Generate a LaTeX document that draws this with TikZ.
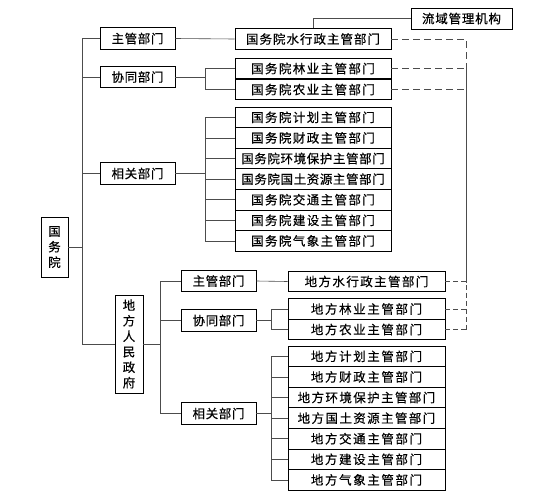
\documentclass[tikz,border=0pt]{standalone}
\usepackage{fontspec}
\newfontfamily\cjk[FakeBold=0.4]{Noto Sans CJK SC}
\ExplSyntaxOn
\seq_new:N \l_my_chars_seq
\NewDocumentCommand\spc{O{1pt}m}{
  \seq_clear:N \l_my_chars_seq
  \tl_map_inline:nn {#2} { \seq_put_right:Nn \l_my_chars_seq {##1} }
  \seq_use:Nn \l_my_chars_seq { \hspace{#1} }
}
\ExplSyntaxOff
\tikzset{
  box/.style={draw=black, line width=0.8pt, inner sep=0pt, anchor=center,
    font=\cjk\fontsize{12.5pt}{15.5pt}\selectfont},
  wide/.style={box, minimum width=156pt, minimum height=20.6pt},
  lwide/.style={box, minimum width=157pt, minimum height=20.6pt},
  dept/.style={box, minimum width=75pt, minimum height=21.5pt},
  vbox/.style={box, align=center},
  ln/.style={draw=black!70, line width=0.6pt},
  dsh/.style={ln, dash pattern=on 7pt off 4pt},
}
\begin{document}
\begin{tikzpicture}[x=1pt,y=-1pt]
\useasboundingbox (0,0) rectangle (542,504);
% root
\node[vbox, minimum width=27pt, minimum height=60pt] (gwy) at (54.5,247) {国\\务\\院};
% national level
\node[dept] (zg1) at (137.5,38.5) {\spc[0.6pt]{主管部门}};
\node[dept] (xt1) at (137.5,77) {\spc[0.6pt]{协同部门}};
\node[dept] (xg1) at (137.5,173.5) {\spc[0.6pt]{相关部门}};
\node[box, minimum width=101pt, minimum height=21pt] (lyjg) at (461.5,18.5) {\spc[0.8pt]{流域管理机构}};
\node[wide] (sl1) at (313,39) {\spc[1pt]{国务院水行政主管部门}};
\node[wide] (ly1) at (313,68.5) {\spc[1.4pt]{国务院林业主管部门}};
\node[wide] (ny1) at (313,89.5) {\spc[1.4pt]{国务院农业主管部门}};
\node[wide] (n1) at (313,117.3) {\spc[1.4pt]{国务院计划主管部门}};
\node[wide] (n2) at (313,137.9) {\spc[1.4pt]{国务院财政主管部门}};
\node[wide] (n3) at (313,158.5) {\spc[0.6pt]{国务院环境保护主管部门}};
\node[wide] (n4) at (313,179.1) {\spc[0.6pt]{国务院国土资源主管部门}};
\node[wide] (n5) at (313,199.7) {\spc[1.4pt]{国务院交通主管部门}};
\node[wide] (n6) at (313,220.3) {\spc[1.4pt]{国务院建设主管部门}};
\node[wide] (n7) at (313,240.9) {\spc[1.4pt]{国务院气象主管部门}};
% local level
\node[vbox, minimum width=28pt, minimum height=98pt] (dfrm) at (129,344) {地\\方\\人\\民\\政\\府};
\node[dept] (zg2) at (218.5,281) {\spc[0.6pt]{主管部门}};
\node[dept] (xt2) at (218.5,320.5) {\spc[0.6pt]{协同部门}};
\node[dept] (xg2) at (218.5,413.5) {\spc[0.6pt]{相关部门}};
\node[lwide] (sl2) at (366.5,281.5) {\spc[1.4pt]{地方水行政主管部门}};
\node[lwide] (ly2) at (366.5,309) {\spc[1.6pt]{地方林业主管部门}};
\node[lwide] (ny2) at (366.5,329.5) {\spc[1.6pt]{地方农业主管部门}};
\node[lwide] (m1) at (366.5,356.3) {\spc[1.6pt]{地方计划主管部门}};
\node[lwide] (m2) at (366.5,376.9) {\spc[1.6pt]{地方财政主管部门}};
\node[lwide] (m3) at (366.5,397.5) {\spc[1.4pt]{地方环境保护主管部门}};
\node[lwide] (m4) at (366.5,418.1) {\spc[1.4pt]{地方国土资源主管部门}};
\node[lwide] (m5) at (366.5,438.7) {\spc[1.6pt]{地方交通主管部门}};
\node[lwide] (m6) at (366.5,459.3) {\spc[1.6pt]{地方建设主管部门}};
\node[lwide] (m7) at (366.5,479.9) {\spc[1.6pt]{地方气象主管部门}};
% guide coordinates
\coordinate (t1) at (82,0);
\coordinate (b1) at (205,0);
\coordinate (t2) at (160,0);
\coordinate (b2) at (271,0);
\coordinate (r) at (466,0);
% national trunk
\draw[ln] (zg1.west) -- (zg1.west -| t1) -- (dfrm.west -| t1) -- (dfrm.west);
\draw[ln] (gwy.east) -- (gwy.east -| t1);
\draw[ln] (xt1.west) -- (xt1.west -| t1);
\draw[ln] (xg1.west) -- (xg1.west -| t1);
% national branches
\draw[ln] (zg1.east) -- (sl1.west);
\draw[ln] (lyjg.west) -| (sl1.north);
\draw[ln] (xt1.east) -- (xt1.east -| b1);
\draw[ln] (ly1.west) -- (ly1.west -| b1) -- (ny1.west -| b1) -- (ny1.west);
\draw[ln] (xg1.east) -- (xg1.east -| b1);
\draw[ln] (n1.west -| b1) -- (n7.west -| b1);
\foreach \i in {1,...,7}{\draw[ln] (n\i.west -| b1) -- (n\i.west);}
% local trunk
\draw[ln] (zg2.west) -- (zg2.west -| t2) -- (xg2.west -| t2) -- (xg2.west);
\draw[ln] (dfrm.east) -- (dfrm.east -| t2);
\draw[ln] (xt2.west) -- (xt2.west -| t2);
% local branches
\draw[ln] (zg2.east) -- (sl2.west);
\draw[ln] (xt2.east) -- (xt2.east -| b2);
\draw[ln] (ly2.west) -- (ly2.west -| b2) -- (ny2.west -| b2) -- (ny2.west);
\draw[ln] (xg2.east) -- (xg2.east -| b2);
\draw[ln] (m1.west -| b2) -- (m7.west -| b2);
\foreach \i in {1,...,7}{\draw[ln] (m\i.west -| b2) -- (m\i.west);}
% dashed links on the right
\draw[dsh] (sl1.east) -- (sl1.east -| r) -- (ly1.east -| r);
\draw[dsh] (ly1.east) -- (ly1.east -| r);
\draw[dsh] (ny1.east) -- (ny1.east -| r);
\draw[ln] (ly1.east -| r) -- (sl2.east -| r);
\draw[dsh, dash pattern=on 5pt off 3pt] (sl2.east) -- (sl2.east -| r) -- (ny2.east -| r);
\draw[dsh, dash pattern=on 5pt off 3pt] (ly2.east) -- (ly2.east -| r);
\draw[dsh, dash pattern=on 5pt off 3pt] (ny2.east) -- (ny2.east -| r);
\end{tikzpicture}
\end{document}
